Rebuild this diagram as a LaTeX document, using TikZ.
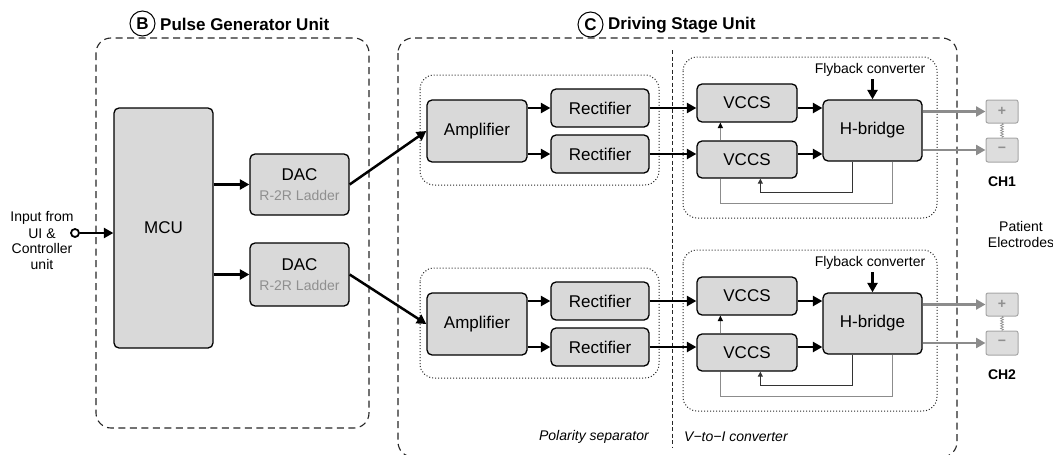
\documentclass[tikz,border=0pt]{standalone}
\usepackage{fontspec}
\setmainfont{Liberation Sans}
\usetikzlibrary{arrows.meta,decorations.pathmorphing,calc}
\definecolor{boxgray}{HTML}{D9D9D9}
\definecolor{linegray}{HTML}{8C8C8C}
\definecolor{txtgray}{HTML}{8F8F8F}
\definecolor{elgray}{HTML}{DDDDDD}
\definecolor{elborder}{HTML}{A6A6A6}
\begin{document}
\begin{tikzpicture}[x=1pt,y=-1pt,
  blk/.style={draw=black, fill=boxgray, rounded corners=5pt, line width=1.3pt, inner sep=0pt, align=center, font=\fontsize{17}{20}\selectfont},
  elec/.style={draw=elborder, fill=elgray, rounded corners=2pt, line width=1pt, inner sep=0pt, text=txtgray, font=\fontsize{14}{16}\selectfont\bfseries},
  arr/.style={line width=2.5pt, -{Triangle[length=9.5pt,width=10pt]}},
  garr/.style={draw=linegray, line width=2.5pt, -{Triangle[length=9.5pt,width=10pt]}},
  fb/.style={line width=0.9pt, draw=black!80},
  gfb/.style={line width=1.1pt, draw=linegray},
  smalltip/.style={-{Triangle[length=5pt,width=5pt]}},
  unitbox/.style={draw=black!85, line width=1.1pt, dash pattern=on 7pt off 4.5pt, rounded corners=15pt},
  subbox/.style={draw=black!85, line width=1pt, dotted, rounded corners=14pt},
  lbl/.style={font=\fontsize{14}{16}\selectfont, inner sep=0pt},
  title/.style={font=\fontsize{17}{20}\selectfont\bfseries, inner sep=0pt},
  circ/.style={draw=black, line width=1pt, circle, minimum size=25pt, inner sep=0pt, font=\fontsize{17}{20}\selectfont\bfseries}
]
\useasboundingbox (0,0) rectangle (1053,455);
\clip (0,0) rectangle (1053,455);

% titles
\node[circ] (circB) at (142.5,23.5) {B};
\node[title, anchor=west] (titB) at (160,24) {Pulse Generator Unit};
\node[circ] (circC) at (590.5,24.5) {C};
\node[title, anchor=west] (titC) at (608,25) {Driving Stage Unit};

% unit boxes
\draw[unitbox] (96,38) rectangle (369,428);
\draw[unitbox] (398,38) rectangle (957,457);
\draw[black!85, line width=0.9pt, dash pattern=on 4pt off 2.5pt] (672,50) -- (672,448);

% pulse generator
\node[blk, minimum width=99, minimum height=240] (mcu) at (163.5,228) {MCU};
\node[blk, minimum width=99, minimum height=61] (dac1) at (299.5,184.5) {DAC\\\fontsize{14}{20}\selectfont\color{txtgray}R-2R Ladder};
\node[blk, minimum width=99, minimum height=63] (dac2) at (299.5,274.5) {DAC\\\fontsize{14}{20}\selectfont\color{txtgray}R-2R Ladder};

\node[lbl, align=center] (inlbl) at (42,241) {Input from\\UI \&\\Controller\\unit};
\node[circle, draw=black, line width=1.8pt, fill=white, minimum size=8pt, inner sep=0pt] (incirc) at (75,233) {};
\draw[arr] (incirc.east) -- (incirc.east -| mcu.west);
\draw[arr] (dac1.west -| mcu.east) -- (dac1.west);
\draw[arr] (dac2.west -| mcu.east) -- (dac2.west);

\node[lbl, font=\fontsize{14}{16}\selectfont\itshape, anchor=east] (polar) at (649,437) {Polarity separator};
\node[lbl, font=\fontsize{14}{16}\selectfont\itshape, anchor=west] (vtoi) at (684,437) {V\textminus to\textminus I converter};
\node[lbl, align=center] (patient) at (1021,234) {Patient\\Electrodes};

\foreach \c/\o in {1/0,2/193}{
  \draw[subbox] (420,75+\o) rectangle (659,185+\o);
  \draw[subbox] (683,57+\o) rectangle (937,218+\o);
  \node[blk, minimum width=100, minimum height=62] (amp\c) at (477,131+\o) {Amplifier};
  \node[blk, minimum width=98, minimum height=38] (reca\c) at (600,108+\o) {Rectifier};
  \node[blk, minimum width=98, minimum height=38] (recb\c) at (600,154+\o) {Rectifier};
  \node[blk, minimum width=100, minimum height=38] (vca\c) at (747,103+\o) {VCCS};
  \node[blk, minimum width=100, minimum height=37] (vcb\c) at (747,159.5+\o) {VCCS};
  \node[blk, minimum width=99, minimum height=61] (hb\c) at (872.5,130.5+\o) {H-bridge};
  \node[elec, minimum width=32, minimum height=23] (ep\c) at (1002,111.5+\o) {+};
  \node[elec, minimum width=32, minimum height=24] (em\c) at (1002,150+\o) {\textminus};
  \node[lbl] (fly\c) at (870,70+\o) {Flyback converter};
  \node[lbl, font=\fontsize{14}{16}\selectfont\bfseries] (ch\c) at (1002,182+\o) {CH\c};
  \coordinate (flytop\c) at (872.5,79+\o);
  % internal arrows
  \draw[arr] (amp\c.east |- reca\c.west) -- (reca\c.west);
  \draw[arr] (amp\c.east |- recb\c.west) -- (recb\c.west);
  \draw[arr] (reca\c.east) -- (reca\c.east -| vca\c.west);
  \draw[arr] (recb\c.east) -- (recb\c.east -| vcb\c.west);
  \draw[arr] (reca\c.east -| vca\c.east) -- (reca\c.east -| hb\c.west);
  \draw[arr] (recb\c.east -| vcb\c.east) -- (recb\c.east -| hb\c.west);
  \draw[arr] (flytop\c) -- (hb\c.north);
  % feedback
  \coordinate (x1\c) at ($(vcb\c.south west)+(24,0)$);
  \coordinate (x2\c) at ($(vcb\c.south west)+(64,0)$);
  \coordinate (h1\c) at ($(hb\c.south west)+(30,0)$);
  \coordinate (h2\c) at ($(hb\c.south west)+(70,0)$);
  \draw[gfb] (x1\c |- vcb\c.north) -- (x1\c |- vca\c.south);
  \fill[black] (x1\c |- vca\c.south) -- ++(-2.8,5.5) -- ++(5.6,0) -- cycle;
  \draw[gfb] (h2\c) -- ++(0,42) -| (x1\c);
  \draw[fb, smalltip] (h1\c) -- ++(0,31) -| (x2\c);
  % outputs
  \draw[garr] (hb\c.east |- ep\c.west) -- (ep\c.west);
  \draw[garr] (hb\c.east |- em\c.west) -- (em\c.west);
  \draw[linegray, line width=0.6pt, decorate, decoration={zigzag, segment length=2.5pt, amplitude=1.5pt}] (ep\c.south) -- (em\c.north);
}
\draw[arr] (dac1.east) -- (amp1.west);
\draw[arr] (dac2.east) -- (amp2.west);
\end{tikzpicture}
\end{document}
